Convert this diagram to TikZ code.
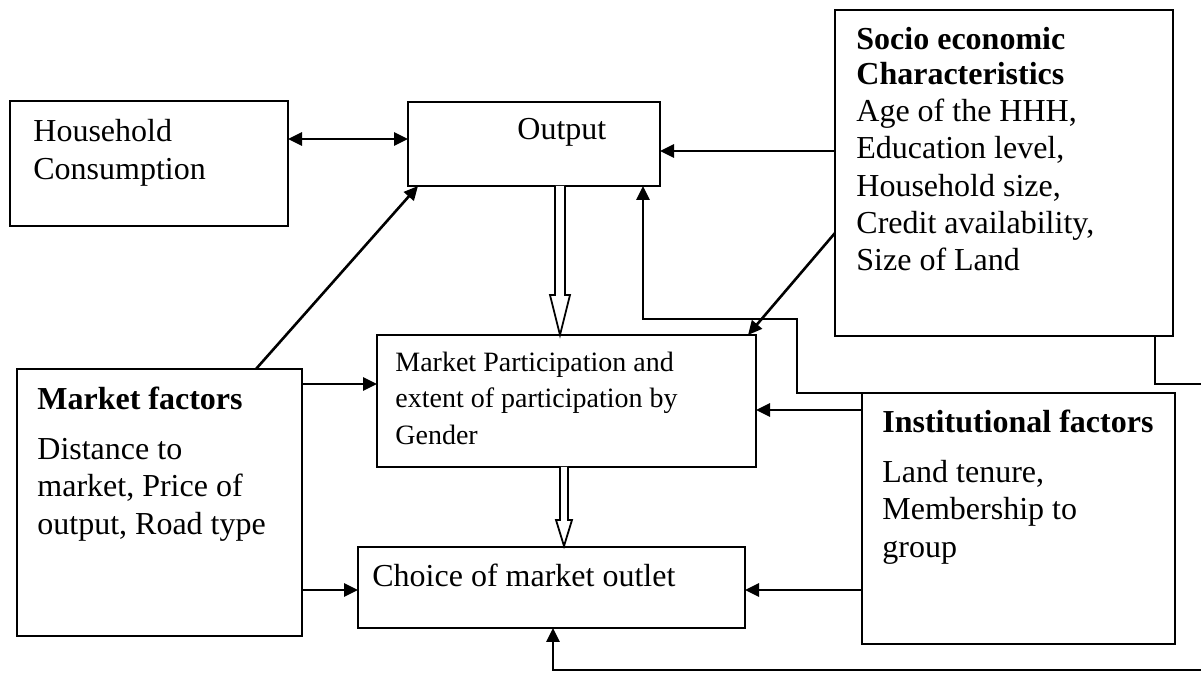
\documentclass[tikz,border=0pt]{standalone}
\usepackage{fontspec}
\setmainfont{Liberation Serif}
\usetikzlibrary{arrows.meta}
\begin{document}
\begin{tikzpicture}[x=0.5pt,y=-0.5pt,
  box/.style={draw, line width=1.1pt, anchor=north west, inner sep=0pt, outer sep=0pt},
  txt/.style={anchor=base west, inner sep=0pt, font=\fontsize{16pt}{18pt}\selectfont},
  btxt/.style={anchor=base west, inner sep=0pt, font=\fontsize{16pt}{18pt}\selectfont\bfseries},
  stxt/.style={anchor=base west, inner sep=0pt, font=\fontsize{14pt}{16pt}\selectfont},
  arr/.style={line width=1.3pt, -{Triangle[length=7pt,width=6.5pt]}},
  barr/.style={line width=1.3pt, {Triangle[length=7pt,width=6.5pt]}-{Triangle[length=7pt,width=6.5pt]}},
  link/.style={line width=1.1pt},
  hollow/.style={draw, line width=0.9pt, fill=white, line join=miter}]
\useasboundingbox (0,0) rectangle (1201,673);
% boxes
\node[box, minimum width=139pt, minimum height=62.5pt] (hc) at (10,101) {};
\node[box, minimum width=126pt, minimum height=42pt] (out) at (408,102) {};
\node[box, minimum width=169pt, minimum height=163pt] (soc) at (835,10) {};
\node[box, minimum width=189.5pt, minimum height=66pt] (mp) at (377,335) {};
\node[box, minimum width=142.5pt, minimum height=133.5pt] (mf) at (17,369) {};
\node[box, minimum width=156.5pt, minimum height=125.5pt] (inst) at (862,393) {};
\node[box, minimum width=193.5pt, minimum height=40.5pt] (ch) at (358,547) {};
% texts
\node[txt] (hc1) at (33,142) {Household};
\node[txt] (hc2) at (33,180) {Consumption};
\node[txt] (out1) at (517,140) {Output};
\node[btxt] (so1) at (856,50) {Socio economic};
\node[btxt] (so2) at (856,85) {Characteristics};
\node[txt] (so3) at (856,122) {Age of the HHH,};
\node[txt] (so4) at (856,159) {Education level,};
\node[txt] (so5) at (856,197) {Household size,};
\node[txt] (so6) at (856,234) {Credit availability,};
\node[txt] (so7) at (856,271) {Size of Land};
\node[stxt] (mp1) at (395,372) {Market Participation and};
\node[stxt] (mp2) at (395,408) {extent of participation by};
\node[stxt] (mp3) at (395,445) {Gender};
\node[btxt] (mf1) at (37,410) {Market factors};
\node[txt] (mf2) at (37,460) {Distance to};
\node[txt] (mf3) at (37,497) {market, Price of};
\node[txt] (mf4) at (37,535) {output, Road type};
\node[btxt] (in1) at (882,433) {Institutional factors};
\node[txt] (in2) at (882,483) {Land tenure,};
\node[txt] (in3) at (882,520) {Membership to};
\node[txt] (in4) at (882,558) {group};
\node[txt] (ch1) at (372,587) {Choice of market outlet};
% connectors
\draw[barr] (hc.east |- 0,139) -- (out.west |- 0,139);
\draw[arr] (soc.west |- 0,151) -- (out.east |- 0,151);
\draw[arr] (mf.north -| 256,0) -- (out.south -| 418,0);
\draw[arr] (soc.west |- 0,233) -- (mp.north -| 748,0);
\draw[arr] (mf.east |- 0,384) -- (mp.west |- 0,384);
\draw[arr] (inst.west |- 0,410) -- (mp.east |- 0,410);
\draw[arr] (mf.east |- 0,590) -- (ch.west |- 0,590);
\draw[arr] (inst.west |- 0,590) -- (ch.east |- 0,590);
\draw[arr] (inst.north west) -- (797,393) -- (797,319) -- (643,319) -- (out.south -| 643,0);
\draw[arr] (1201,670) -- (553,670) -- (ch.south -| 553,0);
\draw[link] (soc.south -| 1155,0) -- (1155,384) -- (1201,384);
% hollow arrows
\draw[hollow] (555,186) -- (555,295) -- (550,295) -- (560,335) -- (570,295) -- (565,295) -- (565,186);
\draw[hollow] (560,467) -- (560,520) -- (556,520) -- (564,546) -- (572,520) -- (568,520) -- (568,467);
\end{tikzpicture}
\end{document}
